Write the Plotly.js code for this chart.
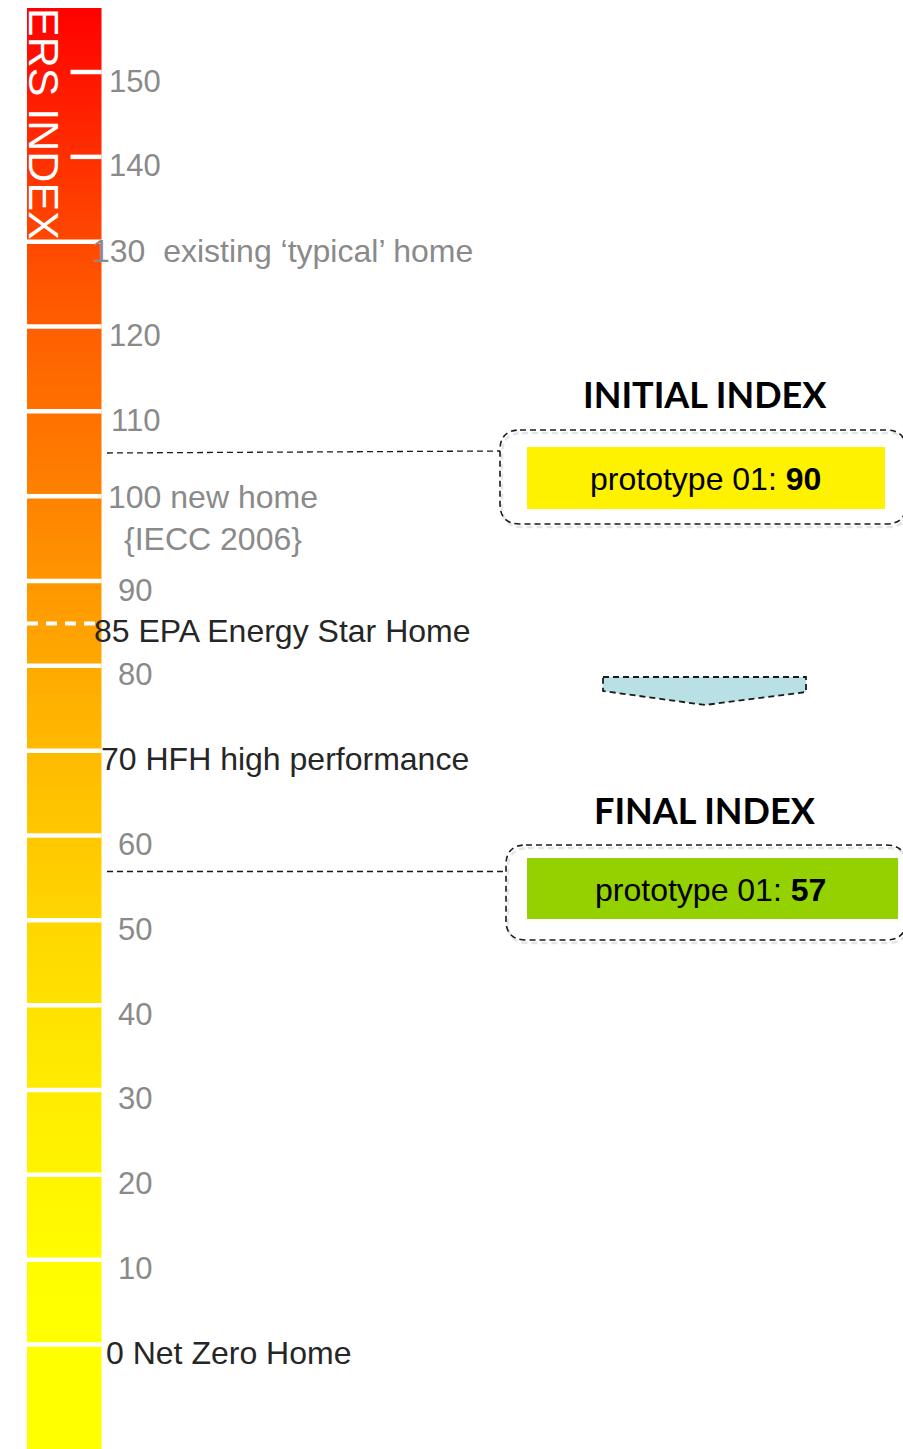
<!DOCTYPE html>
<html>
<head>
<meta charset="utf-8">
<script src="https://cdn.plot.ly/plotly-3.0.1.min.js"></script>
<style>
  html, body { margin: 0; padding: 0; background: #ffffff; }
  #chart { width: 903px; height: 1449px; }
</style>
</head>
<body>
<div id="chart"></div>
<script>
// HERS index scale: 0 = net zero home, 100 = IECC 2006 reference home
const bandEdges = [0, 10, 20, 30, 40, 50, 60, 70, 80, 90, 100, 110, 120, 130];
const upperTicks = [140, 150];
const tickLabelValues = [150, 140, 120, 110, 90, 80, 60, 50, 40, 30, 20, 10];

const milestoneValues = [130, 100, 85, 70, 0];
const milestoneLabels = [
  "130\u00a0 existing \u2018typical\u2019 home",
  "100 new home<br>{IECC 2006}",
  "85 EPA Energy Star Home",
  "70 HFH high performance",
  "0 Net Zero Home"
];
const energyStarValue = 85;

// colour of the scale, sampled at the middle of each band
const gradientValues = [5, 15, 25, 35, 45, 55, 65, 75, 85, 95, 105, 115, 125, 135];
const gradientColors = ["#ffff00", "#fff800", "#fff000", "#ffe700", "#ffdc00", "#ffcf00", "#ffc100",
                        "#ffb200", "#ffa000", "#ff8c00", "#ff7800", "#ff6800", "#ff5400", "#ff3c00"];
const scaleTopColor = "#ff0000";
const scaleBottom = -12.32;
const scaleTop = 157.55;
const axisTop = 158.49;

const scaleTitle = "ERS INDEX";
const prototypeName = "prototype 01";
const initialIndex = 90;
const finalIndex = 57;

// ---- styling / layout constants (pixels) ----
const W = 903, H = 1449;
const barLeft = 27, barRight = 101.5, tickLeft = 70.5;
const labelCenterX = 135;
const milestoneX = [90, 106, 92, 99, 104];
const milestoneShift = [-9.5, 19.5, -8, -8.5, -8.5];
const GRAY = "#8a8a8a", DARK = "#262626";
const milestoneColors = [GRAY, GRAY, DARK, DARK, DARK];
const SANS = "Liberation Sans, Arial, sans-serif";

const py = p => 1 - p / H;   // page pixel row -> paper fraction

// vertical colour gradient of the scale bar
const span = scaleTop - scaleBottom;
const colorscale = [[0, gradientColors[0]]];
gradientValues.forEach((v, i) => colorscale.push([(v - scaleBottom) / span, gradientColors[i]]));
colorscale.push([1, scaleTopColor]);

const scaleBar = {
  type: "scatter",
  mode: "lines",
  x: [barLeft, barRight, barRight, barLeft, barLeft],
  y: [scaleBottom, scaleBottom, scaleTop, scaleTop, scaleBottom],
  line: { width: 0, color: "rgba(0,0,0,0)" },
  fill: "toself",
  fillgradient: { type: "vertical", colorscale: colorscale, start: scaleBottom, stop: scaleTop },
  hoverinfo: "skip",
  showlegend: false
};

const shapes = [];
// white band separators
bandEdges.forEach(v => shapes.push({
  type: "line", xref: "x", yref: "y", x0: barLeft, x1: barRight, y0: v, y1: v,
  line: { color: "#ffffff", width: 4.5 }
}));
upperTicks.forEach(v => shapes.push({
  type: "line", xref: "x", yref: "y", x0: tickLeft, x1: barRight, y0: v, y1: v,
  line: { color: "#ffffff", width: 4.5 }
}));
// Energy Star threshold
shapes.push({
  type: "line", xref: "x", yref: "y", x0: barLeft, x1: 96, y0: energyStarValue, y1: energyStarValue,
  line: { color: "#ffffff", width: 4, dash: "11px,8px" }
});

// rounded dashed frames
function roundedFrame(x0, y0, x1, y1, r) {
  const X = v => v.toFixed(1), Y = v => py(v).toFixed(5);
  return "M" + X(x0 + r) + "," + Y(y0) +
    " L" + X(x1 - r) + "," + Y(y0) +
    " Q" + X(x1) + "," + Y(y0) + " " + X(x1) + "," + Y(y0 + r) +
    " L" + X(x1) + "," + Y(y1 - r) +
    " Q" + X(x1) + "," + Y(y1) + " " + X(x1 - r) + "," + Y(y1) +
    " L" + X(x0 + r) + "," + Y(y1) +
    " Q" + X(x0) + "," + Y(y1) + " " + X(x0) + "," + Y(y1 - r) +
    " L" + X(x0) + "," + Y(y0 + r) +
    " Q" + X(x0) + "," + Y(y0) + " " + X(x0 + r) + "," + Y(y0) + " Z";
}
function pathFrom(points) {
  return points.map((p, i) => (i ? "L" : "M") + p[0].toFixed(1) + "," + py(p[1]).toFixed(5)).join(" ") + " Z";
}
const dashed = { color: "#1a1a1a", width: 1.6, dash: "6px,4px" };

// soft shadow under the frames
[[500, 430, 906, 524], [506, 845, 906, 940]].forEach(f => shapes.push({
  type: "path", xref: "x", yref: "paper", path: roundedFrame(f[0] + 2, f[1] + 3, f[2] + 2, f[3] + 3, 20),
  line: { color: "rgba(0,0,0,0.10)", width: 2.5, dash: "6px,4px" }, fillcolor: "rgba(0,0,0,0)"
}));

// initial index panel
shapes.push({ type: "path", xref: "x", yref: "paper", path: roundedFrame(500, 430, 906, 524, 20),
  line: dashed, fillcolor: "rgba(0,0,0,0)" });
shapes.push({ type: "rect", xref: "x", yref: "paper", x0: 527, x1: 885, y0: py(509), y1: py(447),
  fillcolor: "#fff200", line: { width: 0 } });
shapes.push({ type: "line", xref: "x", yref: "paper", x0: 107, x1: 500, y0: py(453), y1: py(451),
  line: { color: "#1a1a1a", width: 1.3, dash: "6px,4px" } });

// final index panel
shapes.push({ type: "path", xref: "x", yref: "paper", path: roundedFrame(506, 845, 906, 940, 20),
  line: dashed, fillcolor: "rgba(0,0,0,0)" });
shapes.push({ type: "rect", xref: "x", yref: "paper", x0: 527, x1: 898, y0: py(919), y1: py(858),
  fillcolor: "#93d200", line: { width: 0 } });
shapes.push({ type: "line", xref: "x", yref: "paper", x0: 107, x1: 506, y0: py(871.5), y1: py(871.5),
  line: { color: "#1a1a1a", width: 1.3, dash: "6px,4px" } });

// downward chevron between the panels
shapes.push({ type: "path", xref: "x", yref: "paper",
  path: pathFrom([[603, 677], [806, 677], [806, 692], [705, 705], [603, 691]]),
  fillcolor: "#b9e0e4", line: { color: "#1a1a1a", width: 1.8, dash: "6px,4px" } });

const annotations = [];
tickLabelValues.forEach(v => annotations.push({
  x: labelCenterX, xref: "x", y: v, yref: "y", xanchor: "center", yanchor: "middle", yshift: -9,
  text: String(v), showarrow: false, font: { family: SANS, size: 31, color: GRAY }
}));
milestoneValues.forEach((v, i) => annotations.push({
  x: milestoneX[i], xref: "x", y: v, yref: "y", xanchor: "left", yanchor: i === 1 ? "top" : "middle",
  yshift: milestoneShift[i], align: "center",
  text: milestoneLabels[i], showarrow: false, font: { family: SANS, size: 32, color: milestoneColors[i] }
}));
annotations.push({
  x: 44, xref: "x", y: py(124), yref: "paper", xanchor: "center", yanchor: "middle", textangle: 90,
  text: scaleTitle, showarrow: false, font: { family: SANS, size: 43, color: "#ffffff" }
});
annotations.push({
  x: 705, xref: "x", y: py(394), yref: "paper", xanchor: "center", yanchor: "middle",
  text: "<b>INITIAL INDEX</b>", showarrow: false, font: { family: "Lato, sans-serif", size: 36, color: "#000000" }
});
annotations.push({
  x: 705, xref: "x", y: py(810), yref: "paper", xanchor: "center", yanchor: "middle",
  text: "<b>FINAL INDEX</b>", showarrow: false, font: { family: "Lato, sans-serif", size: 36, color: "#000000" }
});
annotations.push({
  x: 705, xref: "x", y: py(479), yref: "paper", xanchor: "center", yanchor: "middle",
  text: prototypeName + ": <b>" + initialIndex + "</b>", showarrow: false,
  font: { family: SANS, size: 32, color: "#000000" }
});
annotations.push({
  x: 710, xref: "x", y: py(890), yref: "paper", xanchor: "center", yanchor: "middle",
  text: prototypeName + ": <b>" + finalIndex + "</b>", showarrow: false,
  font: { family: SANS, size: 32, color: "#000000" }
});

const layout = {
  width: W, height: H,
  margin: { l: 0, r: 0, t: 0, b: 0, pad: 0 },
  paper_bgcolor: "#ffffff", plot_bgcolor: "#ffffff",
  showlegend: false,
  xaxis: { range: [0, W], visible: false, fixedrange: true },
  yaxis: { range: [scaleBottom, axisTop], visible: false, fixedrange: true },
  shapes: shapes,
  annotations: annotations
};

Plotly.newPlot("chart", [scaleBar], layout, { displayModeBar: false, staticPlot: true });
</script>
</body>
</html>
